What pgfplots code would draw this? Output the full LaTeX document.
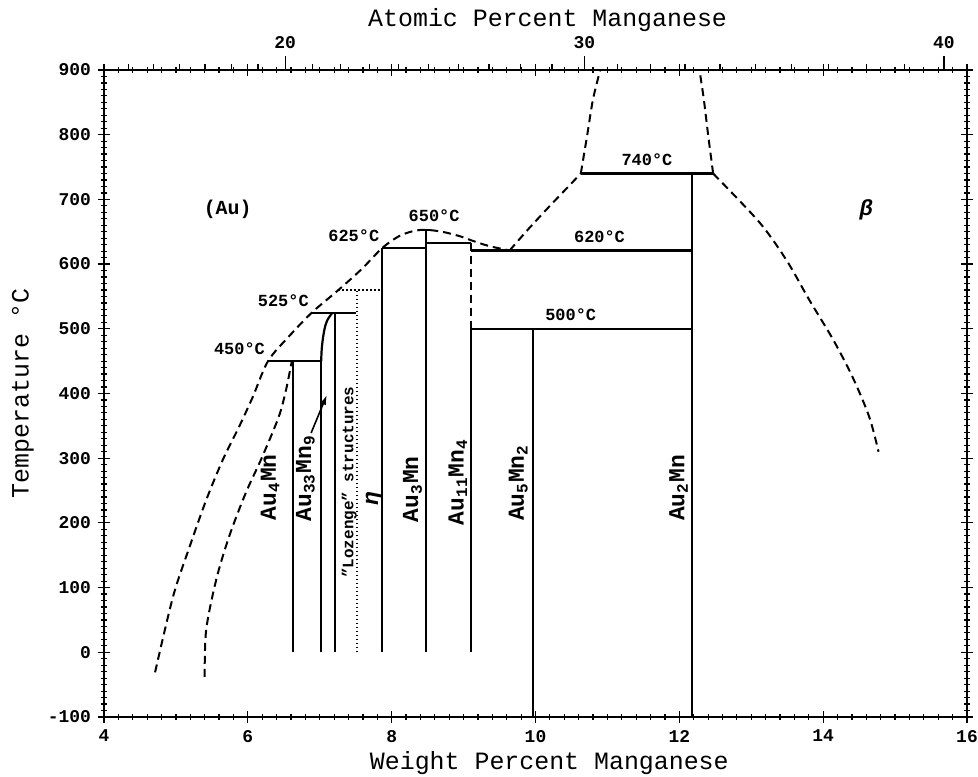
\documentclass[border=0pt]{standalone}
\usepackage{pgfplots}
\pgfplotsset{compat=1.18}
\usetikzlibrary{arrows.meta}
\usepackage{fontspec}
\setmainfont{Liberation Mono}

\pgfplotsset{
  ph/.style={black, line width=1.1bp, mark=none},
  dsh/.style={black, line width=1bp, dash pattern=on 4bp off 2.5bp, mark=none},
  dotl/.style={black, line width=0.8bp, dash pattern=on 0.8bp off 1.2bp, mark=none},
}
\tikzset{
  lbl/.style={font=\fontsize{8.5}{9}\selectfont\bfseries},
  cmp/.style={font=\fontsize{11.5}{12}\selectfont\bfseries, rotate=90, anchor=center},
}

\begin{document}
\begin{tikzpicture}
\begin{axis}[
    name=main,
    scale only axis, width=431.5bp, height=323.5bp,
    xmin=4, xmax=16, ymin=-100, ymax=900,
    xtick={4,6,...,16}, ytick={-100,0,...,900},
    minor x tick num=9, minor y tick num=9,
    tick align=center, major tick length=6bp, minor tick length=3bp,
    axis line style={line width=0.9bp},
    every tick/.style={black, line width=0.6bp},
    tick label style={font=\fontsize{9}{10}\selectfont\bfseries},
    /pgf/number format/assume math mode=true,
    /pgf/number format/set thousands separator={},
    xlabel={Weight Percent Manganese}, ylabel={Temperature °C},
    label style={font=\fontsize{12.5}{14}\selectfont},
    xlabel style={at={(axis description cs:0.516,-0.071)}, anchor=center},
    ylabel style={at={(axis description cs:-0.094,0.5)}, anchor=center},
    clip=false,
  ]
  % dashed phase boundaries
  \addplot[dsh, smooth, tension=0.5] coordinates {
    (4.71,-31) (4.96,86) (5.19,163) (5.42,235) (5.65,297) (5.88,349)
    (6.07,395) (6.28,450) (6.57,488) (6.89,525) (7.26,560) (7.58,592)
    (7.87,625) (8.10,643) (8.30,651) (8.47,653) (8.70,650) (8.95,643)
    (9.10,637) (9.35,628) (9.64,621)};
  \addplot[dsh, smooth, tension=0.5] coordinates {
    (9.64,621) (9.90,654) (10.20,690) (10.45,719) (10.63,740)};
  \addplot[dsh, smooth, tension=0.5] coordinates {
    (10.63,740) (10.72,800) (10.80,855) (10.90,900)};
  \addplot[dsh, smooth, tension=0.5] coordinates {
    (12.47,740) (12.40,800) (12.34,855) (12.28,900)};
  \addplot[dsh, smooth, tension=0.5] coordinates {
    (12.47,740) (13.11,665) (13.49,606) (13.81,544) (14.14,483)
    (14.41,425) (14.64,364) (14.77,310)};
  \addplot[dsh, smooth, tension=0.5] coordinates {
    (5.40,-38) (5.42,34) (5.56,112) (5.74,179) (5.97,246) (6.20,302)
    (6.43,364) (6.53,405) (6.61,449)};
  \addplot[dsh] coordinates {(9.10,633) (9.10,500)};

  % solid phase boundaries
  \addplot[ph] coordinates {(6.63,0) (6.63,450)};
  \addplot[ph] coordinates {(6.28,450) (7.02,450)};
  \addplot[ph] coordinates {(7.02,0) (7.02,450)};
  \addplot[ph, smooth, tension=0.6] coordinates {
    (7.02,450) (7.03,472) (7.06,496) (7.10,512) (7.17,524)};
  \addplot[ph] coordinates {(6.89,525) (7.51,525)};
  \addplot[ph] coordinates {(7.21,0) (7.21,525)};
  \addplot[ph] coordinates {(7.87,0) (7.87,625)};
  \addplot[ph] coordinates {(7.87,625) (8.48,625)};
  \addplot[ph] coordinates {(8.48,0) (8.48,653)};
  \addplot[ph] coordinates {(8.42,653) (8.54,653)};
  \addplot[ph] coordinates {(8.48,633) (9.10,633)};
  \addplot[ph] coordinates {(9.10,0) (9.10,500)};
  \addplot[ph] coordinates {(9.10,621) (12.18,621)};
  \addplot[ph] coordinates {(9.10,500) (12.18,500)};
  \addplot[ph] coordinates {(9.96,-100) (9.96,500)};
  \addplot[ph] coordinates {(12.18,-100) (12.18,740)};
  \addplot[ph] coordinates {(10.63,740) (12.47,740)};

  % dotted boundaries
  \addplot[dotl] coordinates {(7.52,0) (7.52,560)};
  \addplot[dotl] coordinates {(7.26,560) (7.87,560)};

  % arrow to Au33Mn9 field
  \addplot[black, line width=0.8bp, -{Latex[length=5bp,width=3bp]}] coordinates {(6.88,339) (7.10,398)};

  % temperature labels
  \node[lbl, anchor=south] at (axis cs:11.55,741) {740°C};
  \node[lbl, anchor=south] at (axis cs:10.89,622) {620°C};
  \node[lbl, anchor=south] at (axis cs:10.49,501) {500°C};
  \node[lbl, anchor=south] at (axis cs:8.59,654) {650°C};
  \node[lbl, anchor=south east, inner xsep=1bp] at (axis cs:7.86,624) {625°C};
  \node[lbl, anchor=south east, inner xsep=1bp] at (axis cs:6.88,524) {525°C};
  \node[lbl, anchor=south east, inner xsep=1bp] at (axis cs:6.27,449) {450°C};

  % phase labels
  \node[font=\fontsize{10}{11}\selectfont\bfseries] at (axis cs:5.72,684) {(Au)};
  \node[font=\fontsize{11}{12}\selectfont\bfseries\itshape] at (axis cs:14.6,684) {β};
  \node[cmp] at (axis cs:6.31,255) {Au\textsubscript{4}Mn};
  \node[cmp] at (axis cs:6.80,269) {Au\textsubscript{33}Mn\textsubscript{9}};
  \node[cmp, font=\fontsize{8}{9}\selectfont\bfseries] at (axis cs:7.41,263) {"Lozenge" structures};
  \node[cmp] at (axis cs:7.76,238) {\textit{η}};
  \node[cmp] at (axis cs:8.29,252) {Au\textsubscript{3}Mn};
  \node[cmp] at (axis cs:8.92,263) {Au\textsubscript{11}Mn\textsubscript{4}};
  \node[cmp] at (axis cs:9.76,262) {Au\textsubscript{5}Mn\textsubscript{2}};
  \node[cmp] at (axis cs:11.99,254) {Au\textsubscript{2}Mn};
\end{axis}

% top axis: atomic percent
\begin{axis}[
    scale only axis, width=431.5bp, height=323.5bp,
    xmin=4, xmax=16, ymin=-100, ymax=900,
    axis x line*=top, axis y line=none,
    xtick={6.519,10.678,15.679}, xticklabels={20,30,40},
    minor xtick={4.343,4.691,5.045,5.404,5.770,6.141,6.903,7.293,7.691,8.095,
      8.507,8.925,9.352,9.786,10.228,11.136,11.603,12.079,12.564,13.058,
      13.562,14.076,14.600,15.134},
    tick align=outside, major tick length=7bp, minor tick length=3bp,
    axis line style={line width=0.9bp},
    every tick/.style={black, line width=0.6bp},
    tick label style={font=\fontsize{9}{10}\selectfont\bfseries},
    /pgf/number format/assume math mode=true,
    xlabel={Atomic Percent Manganese},
    label style={font=\fontsize{12.5}{14}\selectfont},
    xlabel style={at={(axis description cs:0.514,1.077)}, anchor=center},
  ]
  \addplot[draw=none] coordinates {(4,0) (16,0)};
\end{axis}
\pgfresetboundingbox
\path[use as bounding box] ([shift={(-52bp,-30bp)}]main.south west)
  rectangle ([shift={(5.5bp,35bp)}]main.north east);
\end{tikzpicture}
\end{document}
